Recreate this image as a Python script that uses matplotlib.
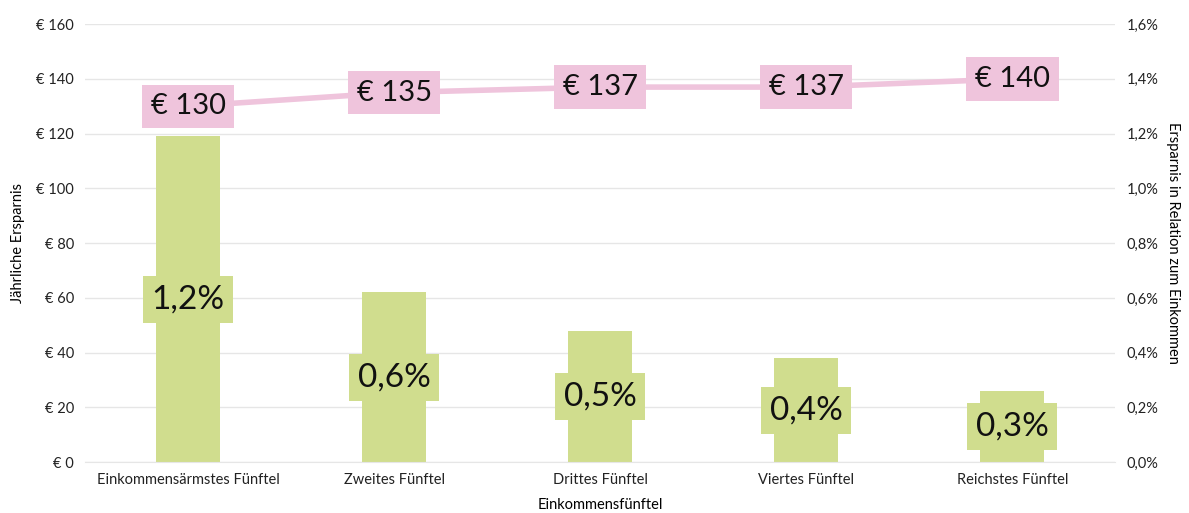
import matplotlib.pyplot as plt

plt.rcParams['font.family'] = ['Lato', 'DejaVu Sans']

categories = ["Einkommensärmstes Fünftel", "Zweites Fünftel", "Drittes Fünftel",
              "Viertes Fünftel", "Reichstes Fünftel"]
savings_eur = [130, 135, 137, 137, 140]
share_pct = [1.19, 0.62, 0.48, 0.38, 0.26]
share_labels = ["1,2%", "0,6%", "0,5%", "0,4%", "0,3%"]
eur_labels = ["€ 130", "€ 135", "€ 137", "€ 137", "€ 140"]

green = "#d0dd8e"
pink = "#efc4dc"
grid = "#e6e6e6"

fig, ax = plt.subplots(figsize=(11.89, 5.13), dpi=100)
fig.subplots_adjust(left=0.0715, right=0.938, top=0.953, bottom=0.099)
ax2 = ax.twinx()

x = range(len(categories))

# bars on the right axis (percent)
ax2.bar(x, share_pct, width=0.31, color=green, zorder=2)
for i, v in enumerate(share_pct):
    ax2.text(i, v / 2, share_labels[i], ha="center", va="center", fontsize=24,
             color="#111111", zorder=3,
             bbox=dict(boxstyle="square,pad=0.26", fc=green, ec="none"))

ax2.set_ylim(0, 1.6)
ax2.set_yticks([0, 0.2, 0.4, 0.6, 0.8, 1.0, 1.2, 1.4, 1.6])
ax2.set_yticklabels([f"{t:.1f}%".replace(".", ",") for t in ax2.get_yticks()])
ax2.set_ylabel("Ersparnis in Relation zum Einkommen", rotation=-90, labelpad=16,
               fontsize=10.5)

# line on the left axis (euro)
ax.set_zorder(ax2.get_zorder() + 1)
ax.patch.set_visible(False)
ax.plot(x, savings_eur, color=pink, lw=4, zorder=3)
for i, v in enumerate(savings_eur):
    ax.text(i, v, eur_labels[i], ha="center", va="center", fontsize=21,
            color="#111111", zorder=4,
            bbox=dict(boxstyle="square,pad=0.3", fc=pink, ec="none"))

ax.set_ylim(0, 160)
ax.set_yticks(range(0, 161, 20))
ax.set_yticklabels([f"€ {t}" for t in range(0, 161, 20)])
ax.set_xlim(-0.5, 4.5)
ax.set_xticks(list(x))
ax.set_xticklabels(categories)
ax.set_xlabel("Einkommensfünftel", fontsize=10.5, labelpad=8)
ax.set_ylabel("Jährliche Ersparnis", fontsize=10.5, labelpad=8)

ax2.yaxis.grid(True, color=grid, lw=1, zorder=0)
ax2.set_axisbelow(True)

for a in (ax, ax2):
    for s in a.spines.values():
        s.set_visible(False)
    a.tick_params(length=0, labelsize=10.5, colors="#222222", pad=8)
ax.spines["bottom"].set_visible(True)
ax.spines["bottom"].set_color(grid)

fig.savefig("out.png")
